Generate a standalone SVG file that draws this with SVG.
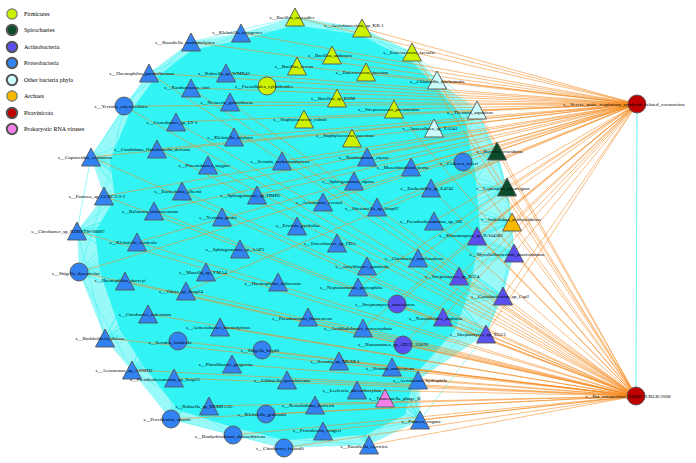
<svg xmlns="http://www.w3.org/2000/svg" xmlns:xlink="http://www.w3.org/1999/xlink" width="696" height="463" viewBox="0 0 696 463">
<style>
text{font-family:"Liberation Serif","Times New Roman",serif;fill:#000}
.lab{font-size:5px;text-anchor:middle}
.leg{font-size:6px}
.n{stroke:#555;stroke-width:0.9}
.firm{fill:#ccf200}.spiro{fill:#0b4d2a}.actino{fill:#5a50f0}.prot{fill:#3382f2}.other{fill:#cdfcfc}.arch{fill:#f9b800}.pira{fill:#bf0000}.phage{fill:#f47fe8}
.cy{stroke:#33f2f2;stroke-width:0.5;fill:none}
.or{stroke:#f68a1e;stroke-width:0.7;fill:none;opacity:0.8}
</style>
<defs>
<polygon id="t" points="0,-9 9.5,9 -9.5,9"/>
<circle id="c" r="9"/>
</defs>
<rect width="696" height="463" fill="#fff"/>
<g id="connectors">
<polygon points="295,17 362,28 412,52 437,80 477,110 497,151 507,187 512,222 514,253 503,296 486,334 418,380 420,420 369,445 284,448 233,435 171,419 132,370 105,338 79,272 77,231 104,196 91,157 124,106 149,73 191,42 241,33" fill="#33f4f4" opacity="0.5"/>
<polygon points="241,40 295,25 360,35 410,60 435,85 465,120 475,170 480,230 470,290 455,330 415,375 405,415 365,435 285,440 235,428 178,410 145,368 120,330 100,272 95,232 115,198 110,160 130,112 155,78 192,50" fill="#33f4f4"/>
<path class="cy" d="M295 17L230 102M295 17L282 161M295 17L354 181M295 17L257 195M295 17L297 226M295 17L240 249M295 17L278 282M295 17L308 317M295 17L358 287M295 17L220 327M295 17L262 350M295 17L377 207M295 17L418 258M295 17L182 191
M362 28L230 102M362 28L282 161M362 28L354 181M362 28L257 195M362 28L297 226M362 28L240 249M362 28L278 282M362 28L308 317M362 28L358 287M362 28L220 327M362 28L262 350M362 28L377 207M362 28L418 258M362 28L182 191
M412 52L230 102M412 52L282 161M412 52L354 181M412 52L257 195M412 52L297 226M412 52L240 249M412 52L278 282M412 52L308 317M412 52L358 287M412 52L220 327M412 52L262 350M412 52L377 207M412 52L418 258M412 52L182 191
M437 80L230 102M437 80L282 161M437 80L354 181M437 80L257 195M437 80L297 226M437 80L240 249M437 80L278 282M437 80L308 317M437 80L358 287M437 80L220 327M437 80L262 350M437 80L377 207M437 80L418 258M437 80L182 191
M477 110L230 102M477 110L282 161M477 110L354 181M477 110L257 195M477 110L297 226M477 110L240 249M477 110L278 282M477 110L308 317M477 110L358 287M477 110L220 327M477 110L262 350M477 110L377 207M477 110L418 258M477 110L182 191
M497 151L230 102M497 151L282 161M497 151L354 181M497 151L257 195M497 151L297 226M497 151L240 249M497 151L278 282M497 151L308 317M497 151L358 287M497 151L220 327M497 151L262 350M497 151L377 207M497 151L418 258M497 151L182 191
M507 187L230 102M507 187L282 161M507 187L354 181M507 187L257 195M507 187L297 226M507 187L240 249M507 187L278 282M507 187L308 317M507 187L358 287M507 187L220 327M507 187L262 350M507 187L377 207M507 187L418 258M507 187L182 191
M512 222L230 102M512 222L282 161M512 222L354 181M512 222L257 195M512 222L297 226M512 222L240 249M512 222L278 282M512 222L308 317M512 222L358 287M512 222L220 327M512 222L262 350M512 222L377 207M512 222L418 258M512 222L182 191
M514 253L230 102M514 253L282 161M514 253L354 181M514 253L257 195M514 253L297 226M514 253L240 249M514 253L278 282M514 253L308 317M514 253L358 287M514 253L220 327M514 253L262 350M514 253L377 207M514 253L418 258M514 253L182 191
M503 296L230 102M503 296L282 161M503 296L354 181M503 296L257 195M503 296L297 226M503 296L240 249M503 296L278 282M503 296L308 317M503 296L358 287M503 296L220 327M503 296L262 350M503 296L377 207M503 296L418 258M503 296L182 191
M486 334L230 102M486 334L282 161M486 334L354 181M486 334L257 195M486 334L297 226M486 334L240 249M486 334L278 282M486 334L308 317M486 334L358 287M486 334L220 327M486 334L262 350M486 334L377 207M486 334L418 258M486 334L182 191
M418 380L230 102M418 380L282 161M418 380L354 181M418 380L257 195M418 380L297 226M418 380L240 249M418 380L278 282M418 380L308 317M418 380L358 287M418 380L220 327M418 380L262 350M418 380L377 207M418 380L418 258M418 380L182 191
M420 420L230 102M420 420L282 161M420 420L354 181M420 420L257 195M420 420L297 226M420 420L240 249M420 420L278 282M420 420L308 317M420 420L358 287M420 420L220 327M420 420L262 350M420 420L377 207M420 420L418 258M420 420L182 191
M369 445L230 102M369 445L282 161M369 445L354 181M369 445L257 195M369 445L297 226M369 445L240 249M369 445L278 282M369 445L308 317M369 445L358 287M369 445L220 327M369 445L262 350M369 445L377 207M369 445L418 258M369 445L182 191
M284 448L230 102M284 448L282 161M284 448L354 181M284 448L257 195M284 448L297 226M284 448L240 249M284 448L278 282M284 448L308 317M284 448L358 287M284 448L220 327M284 448L262 350M284 448L377 207M284 448L418 258M284 448L182 191
M233 435L230 102M233 435L282 161M233 435L354 181M233 435L257 195M233 435L297 226M233 435L240 249M233 435L278 282M233 435L308 317M233 435L358 287M233 435L220 327M233 435L262 350M233 435L377 207M233 435L418 258M233 435L182 191
M171 419L230 102M171 419L282 161M171 419L354 181M171 419L257 195M171 419L297 226M171 419L240 249M171 419L278 282M171 419L308 317M171 419L358 287M171 419L220 327M171 419L262 350M171 419L377 207M171 419L418 258M171 419L182 191
M132 370L230 102M132 370L282 161M132 370L354 181M132 370L257 195M132 370L297 226M132 370L240 249M132 370L278 282M132 370L308 317M132 370L358 287M132 370L220 327M132 370L262 350M132 370L377 207M132 370L418 258M132 370L182 191
M105 338L230 102M105 338L282 161M105 338L354 181M105 338L257 195M105 338L297 226M105 338L240 249M105 338L278 282M105 338L308 317M105 338L358 287M105 338L220 327M105 338L262 350M105 338L377 207M105 338L418 258M105 338L182 191
M79 272L230 102M79 272L282 161M79 272L354 181M79 272L257 195M79 272L297 226M79 272L240 249M79 272L278 282M79 272L308 317M79 272L358 287M79 272L220 327M79 272L262 350M79 272L377 207M79 272L418 258M79 272L182 191
M77 231L230 102M77 231L282 161M77 231L354 181M77 231L257 195M77 231L297 226M77 231L240 249M77 231L278 282M77 231L308 317M77 231L358 287M77 231L220 327M77 231L262 350M77 231L377 207M77 231L418 258M77 231L182 191
M104 196L230 102M104 196L282 161M104 196L354 181M104 196L257 195M104 196L297 226M104 196L240 249M104 196L278 282M104 196L308 317M104 196L358 287M104 196L220 327M104 196L262 350M104 196L377 207M104 196L418 258M104 196L182 191
M91 157L230 102M91 157L282 161M91 157L354 181M91 157L257 195M91 157L297 226M91 157L240 249M91 157L278 282M91 157L308 317M91 157L358 287M91 157L220 327M91 157L262 350M91 157L377 207M91 157L418 258M91 157L182 191
M124 106L230 102M124 106L282 161M124 106L354 181M124 106L257 195M124 106L297 226M124 106L240 249M124 106L278 282M124 106L308 317M124 106L358 287M124 106L220 327M124 106L262 350M124 106L377 207M124 106L418 258M124 106L182 191
M149 73L230 102M149 73L282 161M149 73L354 181M149 73L257 195M149 73L297 226M149 73L240 249M149 73L278 282M149 73L308 317M149 73L358 287M149 73L220 327M149 73L262 350M149 73L377 207M149 73L418 258M149 73L182 191
M191 42L230 102M191 42L282 161M191 42L354 181M191 42L257 195M191 42L297 226M191 42L240 249M191 42L278 282M191 42L308 317M191 42L358 287M191 42L220 327M191 42L262 350M191 42L377 207M191 42L418 258M191 42L182 191
M241 33L230 102M241 33L282 161M241 33L354 181M241 33L257 195M241 33L297 226M241 33L240 249M241 33L278 282M241 33L308 317M241 33L358 287M241 33L220 327M241 33L262 350M241 33L377 207M241 33L418 258M241 33L182 191
M295 17L412 52M362 28L437 80M412 52L477 110M437 80L497 151M477 110L507 187M497 151L512 222M507 187L514 253M512 222L503 296M514 253L486 334M503 296L418 380M486 334L420 420M418 380L369 445M420 420L284 448M369 445L233 435M284 448L171 419M233 435L132 370M171 419L105 338M132 370L79 272M105 338L77 231M79 272L104 196M77 231L91 157M104 196L124 106M91 157L149 73M124 106L191 42M149 73L241 33M191 42L295 17M241 33L362 28"/>
<path class="or" d="M637 104L149 73M637 104L191 42M637 104L241 33M637 104L226 73M637 104L191 88M637 104L267 86M637 104L230 102M637 104L124 106M637 104L176 122M637 104L157 149M637 104L295 17M637 104L362 28M637 104L332 55M637 104L297 66M637 104L412 52M637 104L366 72M637 104L437 80M637 104L337 98M637 104L394 109M637 104L304 119M637 104L352 138M637 104L477 110M637 104L434 128M637 104L497 151M637 104L507 187M637 104L463 162M637 104L411 167M637 104L367 157M637 104L431 188M637 104L512 222M637 104L434 221M637 104L477 236M637 104L514 253M637 104L459 276M637 104L503 296M637 104L418 258M637 104L234 137M637 104L282 161M637 104L257 195M637 104L323 202M637 104L377 207M637 104L182 191M637 104L154 211M637 104L137 242M637 104L79 272M637 104L186 291M637 104L443 317M637 104L486 334M637 104L397 304M637 104L403 345M637 104L363 328M637 104L358 287M637 104L91 157M637 104L104 196"/>
<path class="or" d="M636 396L91 157M636 396L124 106M636 396L149 73M636 396L191 88M636 396L230 102M636 396L176 122M636 396L157 149M636 396L208 165M636 396L182 191M636 396L104 196M636 396L154 211M636 396L77 231M636 396L137 242M636 396L79 272M636 396L125 281M636 396L186 291M636 396L148 314M636 396L105 338M636 396L178 341M636 396L132 370M636 396L174 378M636 396L209 406M636 396L171 419M636 396L233 435M636 396L284 448M636 396L266 414M636 396L323 431M636 396L369 445M636 396L420 420M636 396L315 405M636 396L357 390M636 396L418 380M636 396L392 367M636 396L339 361M636 396L403 345M636 396L486 334M636 396L443 317M636 396L503 296M636 396L459 276M636 396L514 253M636 396L477 236M636 396L512 222M636 396L507 187M636 396L497 151M636 396L463 162M636 396L431 188M636 396L434 221M636 396L418 258M636 396L397 304M636 396L363 328M636 396L308 317M636 396L220 327M636 396L262 350M636 396L232 364M636 396L287 380M636 396L477 110M636 396L437 80M636 396L412 52M636 396L394 109"/>
<line x1="637" y1="104" x2="636" y2="396" stroke="#7ff4f4" stroke-width="1.2"/>
</g>
<g id="legend">
<circle cx="12" cy="14" r="5.2" class="firm" stroke="#777" stroke-width="1.2"/><text class="leg" x="24" y="16">Firmicutes</text>
<circle cx="12" cy="30" r="5.2" class="spiro" stroke="#555" stroke-width="2"/><text class="leg" x="24" y="32">Spirochaetes</text>
<circle cx="12" cy="47" r="5.2" class="actino" stroke="#555" stroke-width="2"/><text class="leg" x="24" y="49">Actinobacteria</text>
<circle cx="12" cy="63" r="5.2" class="prot" stroke="#555" stroke-width="2"/><text class="leg" x="24" y="65">Proteobacteria</text>
<circle cx="12" cy="80" r="5.2" class="other" stroke="#555" stroke-width="2"/><text class="leg" x="24" y="82">Other bacteria phyla</text>
<circle cx="12" cy="96" r="5.2" class="arch" stroke="#777" stroke-width="1.2"/><text class="leg" x="24" y="98">Archaea</text>
<circle cx="12" cy="113" r="5.2" class="pira" stroke="#555" stroke-width="2"/><text class="leg" x="24" y="115">Piravinicota</text>
<circle cx="12" cy="129" r="5.2" class="phage" stroke="#555" stroke-width="2"/><text class="leg" x="24" y="131">Prokaryotic RNA viruses</text>
</g>
<g id="nodes">
<g id="n01"><use href="#t" x="295" y="17" class="n firm"/><text class="lab" x="292" y="19">s__Bacillus_mycoides</text></g>
<g id="n02"><use href="#t" x="362" y="28" class="n firm"/><text class="lab" x="354" y="27">s__Acetobacterium_sp_KB-1</text></g>
<g id="n03"><use href="#t" x="241" y="33" class="n prot"/><text class="lab" x="237" y="34">s__Klebsiella_aerogenes</text></g>
<g id="n04"><use href="#t" x="191" y="42" class="n prot"/><text class="lab" x="185" y="44">s__Raoultella_ornithinolytica</text></g>
<g id="n05"><use href="#t" x="149" y="73" class="n prot"/><text class="lab" x="142" y="75">s__Haemophilus_parainfluenzae</text></g>
<g id="n06"><use href="#t" x="226" y="73" class="n prot"/><text class="lab" x="224" y="75">s__Rahnella_sp_WMR42</text></g>
<g id="n07"><use href="#t" x="191" y="88" class="n prot"/><text class="lab" x="187" y="89">s__Xanthomonas_citri</text></g>
<g id="n08"><use href="#c" x="267" y="86" class="n firm"/><text class="lab" x="264" y="88">s__Faecalitalea_cylindroides</text></g>
<g id="n09"><use href="#c" x="124" y="106" class="n prot"/><text class="lab" x="121" y="108">s__Yersinia_enterocolitica</text></g>
<g id="n10"><use href="#t" x="230" y="102" class="n prot"/><text class="lab" x="227" y="104">s__Neisseria_gonorrhoeae</text></g>
<g id="n11"><use href="#t" x="332" y="55" class="n firm"/><text class="lab" x="330" y="57">s__Bacillus_anthracis</text></g>
<g id="n12"><use href="#t" x="297" y="66" class="n firm"/><text class="lab" x="294" y="68">s__Bacillus_cereus</text></g>
<g id="n13"><use href="#t" x="412" y="52" class="n firm"/><text class="lab" x="409" y="54">s__Enterococcus_faecalis</text></g>
<g id="n14"><use href="#t" x="366" y="72" class="n firm"/><text class="lab" x="362" y="74">s__Enterococcus_faecium</text></g>
<g id="n15"><use href="#t" x="437" y="80" class="n other"/><text class="lab" x="437" y="83">s__Chlamydia_trachomatis</text></g>
<g id="n16"><use href="#t" x="337" y="98" class="n firm"/><text class="lab" x="333" y="100">s__Bacillus_sp_BS98</text></g>
<g id="n17"><use href="#t" x="394" y="109" class="n firm"/><text class="lab" x="389" y="111">s__Streptococcus_pneumoniae</text></g>
<g id="n18"><use href="#t" x="304" y="119" class="n firm"/><text class="lab" x="300" y="121">s__Staphylococcus_cohnii</text></g>
<g id="n19"><use href="#t" x="352" y="138" class="n firm"/><text class="lab" x="345" y="137">s__Staphylococcus_succinus</text></g>
<g id="n20"><use href="#t" x="477" y="110" class="n other"/><text class="lab" x="470" y="114">s__Thermus_aquaticus</text></g>
<g id="n21"><use href="#t" x="434" y="128" class="n other"/><text class="lab" x="430" y="130">s__Anaerolinea_sp_YA541</text></g>
<g id="n22"><use href="#t" x="176" y="122" class="n prot"/><text class="lab" x="172" y="124">s__Cronobacter_sp_LY-1</text></g>
<g id="n23"><use href="#t" x="157" y="149" class="n prot"/><text class="lab" x="152" y="151">s__Candidatus_Hamiltonella_defensa</text></g>
<g id="n24"><use href="#t" x="91" y="157" class="n prot"/><text class="lab" x="85" y="159">s__Cupriavidus_oxalaticus</text></g>
<g id="n25"><use href="#t" x="234" y="137" class="n prot"/><text class="lab" x="230" y="139">s__Klebsiella_oxytoca</text></g>
<g id="n26"><use href="#t" x="208" y="165" class="n prot"/><text class="lab" x="204" y="167">s__Phreatobacter_stygius</text></g>
<g id="n27"><use href="#t" x="282" y="161" class="n prot"/><text class="lab" x="280" y="163">s__Serratia_surfactantfaciens</text></g>
<g id="n28"><use href="#t" x="367" y="157" class="n prot"/><text class="lab" x="364" y="159">s__Xanthomonas_oryzae</text></g>
<g id="n29"><use href="#t" x="411" y="167" class="n prot"/><text class="lab" x="403" y="169">s__Mesorhizobium_terrae</text></g>
<g id="n30"><use href="#c" x="463" y="162" class="n prot"/><text class="lab" x="459" y="165">s__Cedecea_neteri</text></g>
<g id="n31"><use href="#t" x="497" y="151" class="n spiro"/><text class="lab" x="500" y="153">s__Borrelia_crocidurae</text></g>
<g id="n32"><use href="#t" x="507" y="187" class="n spiro"/><text class="lab" x="503" y="190">s__Leptospira_interrogans</text></g>
<g id="n33"><use href="#t" x="354" y="181" class="n prot"/><text class="lab" x="348" y="183">s__Sphingomonas_alpina</text></g>
<g id="n34"><use href="#t" x="431" y="188" class="n prot"/><text class="lab" x="427" y="190">s__Escherichia_sp_E4742</text></g>
<g id="n35"><use href="#t" x="182" y="191" class="n prot"/><text class="lab" x="178" y="193">s__Escherichia_albertii</text></g>
<g id="n36"><use href="#t" x="257" y="195" class="n prot"/><text class="lab" x="250" y="197">s__Sphingomonas_sp_HMP6</text></g>
<g id="n37"><use href="#t" x="104" y="196" class="n prot"/><text class="lab" x="97" y="198">s__Pantoea_sp_CCBC3-3-1</text></g>
<g id="n38"><use href="#t" x="323" y="202" class="n prot"/><text class="lab" x="319" y="204">s__Aeromonas_veronii</text></g>
<g id="n39"><use href="#t" x="377" y="207" class="n prot"/><text class="lab" x="372" y="210">s__Shewanella_sp_Scap07</text></g>
<g id="n40"><use href="#t" x="154" y="211" class="n prot"/><text class="lab" x="150" y="213">s__Ralstonia_solanacearum</text></g>
<g id="n41"><use href="#t" x="222" y="217" class="n prot"/><text class="lab" x="218" y="219">s__Yersinia_pestis</text></g>
<g id="n42"><use href="#t" x="434" y="221" class="n prot"/><text class="lab" x="431" y="223">s__Pseudoalteromonas_sp_3J6</text></g>
<g id="n43"><use href="#t" x="512" y="222" class="n arch"/><text class="lab" x="511" y="221">s__Sulfolobus_acidocaldarius</text></g>
<g id="n44"><use href="#t" x="297" y="226" class="n prot"/><text class="lab" x="298" y="227">s__Erwinia_pyrifoliae</text></g>
<g id="n45"><use href="#t" x="77" y="231" class="n prot"/><text class="lab" x="68" y="233">s__Citrobacter_sp_RHBSTW-00887</text></g>
<g id="n46"><use href="#t" x="477" y="236" class="n actino"/><text class="lab" x="471" y="237">s__Kitasatospora_sp_NA04385</text></g>
<g id="n47"><use href="#t" x="137" y="242" class="n prot"/><text class="lab" x="133" y="244">s__Klebsiella_variicola</text></g>
<g id="n48"><use href="#t" x="337" y="243" class="n prot"/><text class="lab" x="330" y="245">s__Enterobacter_sp_FDA</text></g>
<g id="n49"><use href="#t" x="240" y="249" class="n prot"/><text class="lab" x="235" y="251">s__Sphingomonas_sp_AAP5</text></g>
<g id="n50"><use href="#t" x="514" y="253" class="n actino"/><text class="lab" x="507" y="256">s__Mycolicibacterium_parafortuitum</text></g>
<g id="n51"><use href="#t" x="418" y="258" class="n prot"/><text class="lab" x="414" y="260">s__Citrobacter_amalonaticus</text></g>
<g id="n52"><use href="#t" x="367" y="266" class="n prot"/><text class="lab" x="362" y="268">s__Amylibacter_ponticola</text></g>
<g id="n53"><use href="#c" x="79" y="272" class="n prot"/><text class="lab" x="76" y="275">s__Shigella_dysenteriae</text></g>
<g id="n54"><use href="#t" x="206" y="272" class="n prot"/><text class="lab" x="203" y="274">s__Massilia_sp_YMA4</text></g>
<g id="n55"><use href="#t" x="459" y="276" class="n actino"/><text class="lab" x="452" y="278">s__Streptomyces_sp_ICC4</text></g>
<g id="n56"><use href="#t" x="125" y="281" class="n prot"/><text class="lab" x="120" y="282">s__Haemophilus_ducreyi</text></g>
<g id="n57"><use href="#t" x="278" y="282" class="n prot"/><text class="lab" x="273" y="285">s__Haemophilus_influenzae</text></g>
<g id="n58"><use href="#t" x="358" y="287" class="n prot"/><text class="lab" x="351" y="289">s__Neptunomonas_phycophila</text></g>
<g id="n59"><use href="#t" x="186" y="291" class="n prot"/><text class="lab" x="181" y="293">s__Vibrio_sp_Scap24</text></g>
<g id="n60"><use href="#t" x="503" y="296" class="n actino"/><text class="lab" x="500" y="298">s__Curtobacterium_sp_Csp2</text></g>
<g id="n61"><use href="#c" x="397" y="304" class="n actino"/><text class="lab" x="385" y="306">s__Streptomyces_armeniacus</text></g>
<g id="n62"><use href="#t" x="148" y="314" class="n prot"/><text class="lab" x="145" y="316">s__Citrobacter_rodentium</text></g>
<g id="n63"><use href="#t" x="308" y="317" class="n prot"/><text class="lab" x="302" y="320">s__Pseudomonas_fluorescens</text></g>
<g id="n64"><use href="#t" x="443" y="317" class="n actino"/><text class="lab" x="436" y="320">s__Nocardioides_daphniae</text></g>
<g id="n65"><use href="#t" x="220" y="327" class="n prot"/><text class="lab" x="218" y="329">s__Acinetobacter_haemolyticus</text></g>
<g id="n66"><use href="#t" x="363" y="328" class="n prot"/><text class="lab" x="358" y="330">s__Acidihalobacter_ferrooxydans</text></g>
<g id="n67"><use href="#t" x="486" y="334" class="n actino"/><text class="lab" x="478" y="336">s__Streptomyces_sp_TGC1</text></g>
<g id="n68"><use href="#t" x="105" y="338" class="n prot"/><text class="lab" x="100" y="340">s__Burkholderia_dolosa</text></g>
<g id="n69"><use href="#c" x="178" y="341" class="n prot"/><text class="lab" x="170" y="344">s__Serratia_fonticola</text></g>
<g id="n70"><use href="#c" x="403" y="345" class="n actino"/><text class="lab" x="393" y="346">s__Nonomuraea_sp_ATCC_55076</text></g>
<g id="n71"><use href="#c" x="262" y="350" class="n prot"/><text class="lab" x="260" y="352">s__Shigella_boydii</text></g>
<g id="n72"><use href="#t" x="339" y="361" class="n prot"/><text class="lab" x="335" y="363">s__Serratia_sp_MGOL1</text></g>
<g id="n73"><use href="#t" x="232" y="364" class="n prot"/><text class="lab" x="226" y="366">s__Pluralibacter_gergoviae</text></g>
<g id="n74"><use href="#t" x="392" y="367" class="n prot"/><text class="lab" x="390" y="370">s__Serratia_marcescens</text></g>
<g id="n75"><use href="#t" x="132" y="370" class="n prot"/><text class="lab" x="124" y="372">s__Aeromonas_sp_ASNIH2</text></g>
<g id="n76"><use href="#t" x="174" y="378" class="n prot"/><text class="lab" x="165" y="381">s__Pseudoalteromonas_sp_Scap25</text></g>
<g id="n77"><use href="#t" x="287" y="380" class="n prot"/><text class="lab" x="282" y="382">s__Gibbsiella_quercinecans</text></g>
<g id="n78"><use href="#t" x="418" y="380" class="n prot"/><text class="lab" x="420" y="382">s__Aeromonas_hydrophila</text></g>
<g id="n79"><use href="#t" x="357" y="390" class="n prot"/><text class="lab" x="352" y="392">s__Leclercia_adecarboxylata</text></g>
<g id="n80"><use href="#t" x="385" y="398" class="n phage"/><text class="lab" x="395" y="400">s__Tsuneonella_phage_B</text></g>
<g id="n81"><use href="#t" x="315" y="405" class="n prot"/><text class="lab" x="308" y="407">s__Xenorhabdus_bovienii</text></g>
<g id="n82"><use href="#t" x="209" y="406" class="n prot"/><text class="lab" x="204" y="408">s__Rahnella_sp_ERMR1:05</text></g>
<g id="n83"><use href="#c" x="266" y="414" class="n prot"/><text class="lab" x="262" y="416">s__Klebsiella_grimontii</text></g>
<g id="n84"><use href="#c" x="171" y="419" class="n prot"/><text class="lab" x="167" y="421">s__Providencia_stuartii</text></g>
<g id="n85"><use href="#t" x="420" y="420" class="n prot"/><text class="lab" x="421" y="423">s__Pantoea_vagans</text></g>
<g id="n86"><use href="#t" x="323" y="431" class="n prot"/><text class="lab" x="317" y="432">s__Providencia_rettgeri</text></g>
<g id="n87"><use href="#c" x="233" y="435" class="n prot"/><text class="lab" x="230" y="438">s__Bradyrhizobium_diazoefficiens</text></g>
<g id="n88"><use href="#t" x="369" y="445" class="n prot"/><text class="lab" x="364" y="448">s__Raoultella_electrica</text></g>
<g id="n89"><use href="#c" x="284" y="448" class="n prot"/><text class="lab" x="280" y="450">s__Citrobacter_freundii</text></g>
<g id="n90"><use href="#c" x="637" y="104" class="n pira"/><text class="lab" x="624" y="106">s__Severe_acute_respiratory_syndrome-related_coronavirus</text></g>
<g id="n91"><use href="#c" x="636" y="396" class="n pira"/><text class="lab" x="628" y="398">s__Bat_coronavirus_BM48-31/BGR/2008</text></g>
</g>
</svg>
